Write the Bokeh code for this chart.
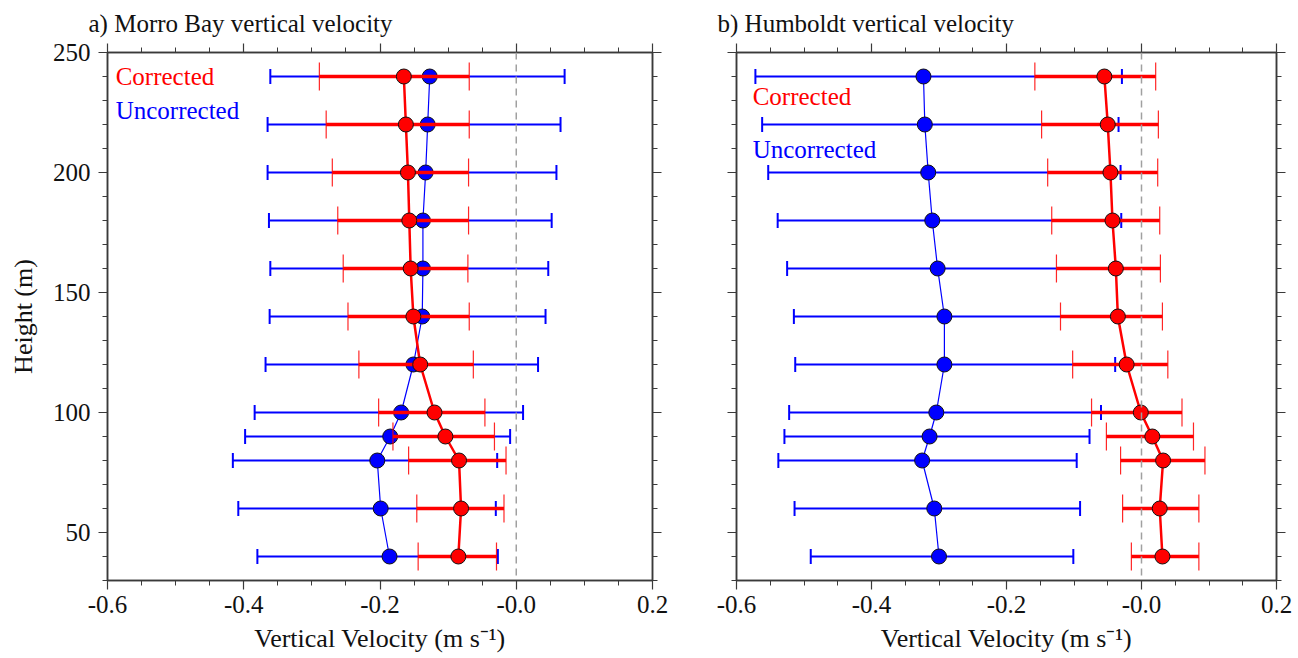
import math
from bokeh.plotting import figure
from bokeh.models import Span, Label, FixedTicker, LinearAxis, Range1d
from bokeh.layouts import row
from bokeh.embed import file_html
from bokeh.resources import INLINE

# ---------------- data ----------------
heights = [40, 60, 80, 90, 100, 120, 140, 160, 180, 200, 220, 240]

# a) Morro Bay
mb_corr = [-0.085, -0.081, -0.084, -0.104, -0.120, -0.141, -0.151, -0.155, -0.157, -0.159, -0.162, -0.165]
mb_corr_lo = [-0.144, -0.146, -0.158, -0.181, -0.202, -0.231, -0.247, -0.254, -0.262, -0.270, -0.279, -0.289]
mb_corr_hi = [-0.029, -0.018, -0.015, -0.032, -0.046, -0.063, -0.069, -0.071, -0.070, -0.070, -0.069, -0.069]
mb_unc = [-0.186, -0.199, -0.204, -0.185, -0.169, -0.151, -0.138, -0.137, -0.137, -0.133, -0.130, -0.127]
mb_unc_lo = [-0.380, -0.408, -0.416, -0.398, -0.384, -0.368, -0.362, -0.361, -0.363, -0.365, -0.365, -0.361]
mb_unc_hi = [-0.027, -0.030, -0.028, -0.009, 0.010, 0.032, 0.043, 0.047, 0.052, 0.059, 0.065, 0.071]

# b) Humboldt
hb_corr = [0.031, 0.027, 0.032, 0.016, -0.001, -0.022, -0.035, -0.038, -0.043, -0.046, -0.050, -0.055]
hb_corr_lo = [-0.015, -0.028, -0.031, -0.052, -0.074, -0.102, -0.120, -0.126, -0.133, -0.139, -0.148, -0.158]
hb_corr_hi = [0.085, 0.085, 0.094, 0.077, 0.060, 0.039, 0.031, 0.028, 0.027, 0.024, 0.025, 0.021]
hb_unc = [-0.300, -0.307, -0.325, -0.314, -0.304, -0.292, -0.292, -0.302, -0.310, -0.316, -0.321, -0.323]
hb_unc_lo = [-0.490, -0.514, -0.538, -0.529, -0.522, -0.513, -0.515, -0.525, -0.539, -0.553, -0.562, -0.572]
hb_unc_hi = [-0.101, -0.091, -0.096, -0.077, -0.060, -0.039, -0.035, -0.036, -0.030, -0.031, -0.034, -0.029]

x_ticks = [-0.6, -0.4, -0.2, 0.0, 0.2]
x_tick_labels = ["-0.6", "-0.4", "-0.2", "-0.0", "0.2"]
x_minor = [round(-0.6 + 0.05 * i, 2) for i in range(17)]
y_ticks = [50, 100, 150, 200, 250]
y_minor = list(range(30, 251, 10))

FONT = "Liberation Serif"
RED = "#ff0000"
BLUE = "#0000ff"
AX = "#3a3a3a"


def style_axis(ax, show_labels):
    ax.axis_line_color = AX
    ax.axis_line_width = 1.5
    ax.major_tick_line_color = AX
    ax.minor_tick_line_color = AX
    ax.major_tick_line_width = 1.2
    ax.minor_tick_line_width = 1.0
    ax.major_tick_in = 0
    ax.minor_tick_in = 0
    ax.major_tick_out = 9
    ax.minor_tick_out = 5
    ax.major_label_text_font = FONT
    ax.axis_label_text_font = FONT
    ax.axis_label_text_font_size = "26px"
    ax.axis_label_text_font_style = "normal"
    ax.axis_label_text_color = "#111111"
    if show_labels:
        ax.major_label_text_font_size = "25px"
        ax.major_label_text_color = "#111111"
    else:
        ax.major_label_text_font_size = "1px"
        ax.major_label_text_color = None
        ax.major_label_standoff = 0


def make_panel(title, c, c_lo, c_hi, u, u_lo, u_hi, width, bl, br, ylab, legend):
    p = figure(width=width, height=658, x_range=Range1d(-0.6, 0.2), y_range=Range1d(30, 250),
               output_backend="svg", toolbar_location=None,
               min_border_left=bl, min_border_right=br, min_border_top=52, min_border_bottom=78,
               background_fill_color="white", border_fill_color="white")
    p.xgrid.visible = False
    p.ygrid.visible = False
    p.outline_line_color = AX
    p.outline_line_width = 1.5

    top_axis = LinearAxis()
    right_axis = LinearAxis()
    p.add_layout(top_axis, "above")
    p.add_layout(right_axis, "right")
    bottom_axis = p.below[0]
    left_axis = p.left[0]

    xt = FixedTicker(ticks=x_ticks, minor_ticks=x_minor)
    yt = FixedTicker(ticks=y_ticks, minor_ticks=y_minor)
    for ax in (bottom_axis, top_axis):
        ax.ticker = xt
        ax.major_label_overrides = {t: s for t, s in zip(x_ticks, x_tick_labels)}
    for ax in (left_axis, right_axis):
        ax.ticker = yt
    style_axis(bottom_axis, True)
    style_axis(top_axis, False)
    style_axis(left_axis, ylab)
    style_axis(right_axis, False)

    bottom_axis.axis_label = "Vertical Velocity (m s\u207b\u00b9)"
    bottom_axis.major_label_standoff = 6
    bottom_axis.axis_label_standoff = 8
    if ylab:
        left_axis.axis_label = "Height (m)"
        left_axis.major_label_standoff = 8
        left_axis.axis_label_standoff = 12

    p.title.text = title
    p.title.align = "left"
    p.title.offset = -19
    p.title.text_font = FONT
    p.title.text_font_size = "25px"
    p.title.text_font_style = "normal"
    p.title.text_color = "#111111"
    p.title.standoff = 13

    p.add_layout(Span(location=0, dimension="height", line_color="#a0a0a0",
                      line_dash="7 5", line_width=1.5))

    # uncorrected (blue)
    p.segment(x0=u_lo, x1=u_hi, y0=heights, y1=heights, line_color=BLUE, line_width=2.2)
    p.scatter(x=u_lo + u_hi, y=heights + heights, marker="dash", angle=math.pi / 2, size=15,
              line_color=BLUE, line_width=2)
    p.line(x=u, y=heights, line_color=BLUE, line_width=1.2)
    p.scatter(x=u, y=heights, size=15, fill_color=BLUE, line_color="#111111", line_width=1)

    # corrected (red)
    p.segment(x0=c_lo, x1=c_hi, y0=heights, y1=heights, line_color=RED, line_width=3.5)
    p.scatter(x=c_lo + c_hi, y=heights + heights, marker="dash", angle=math.pi / 2, size=28,
              line_color=RED, line_width=1.2, line_alpha=0.85)
    p.line(x=c, y=heights, line_color=RED, line_width=2.5)
    p.scatter(x=c, y=heights, size=15, fill_color=RED, line_color="#111111", line_width=1)

    (lx, ly1, ly2) = legend
    p.add_layout(Label(x=lx, y=ly1, text="Corrected", text_color=RED, text_font=FONT,
                       text_font_size="25px", text_baseline="middle"))
    p.add_layout(Label(x=lx, y=ly2, text="Uncorrected", text_color=BLUE, text_font=FONT,
                       text_font_size="25px", text_baseline="middle"))
    return p


p1 = make_panel("a) Morro Bay vertical velocity", mb_corr, mb_corr_lo, mb_corr_hi,
                mb_unc, mb_unc_lo, mb_unc_hi, 690, 107, 38, True, (-0.588, 240, 226))
p2 = make_panel("b) Humboldt vertical velocity", hb_corr, hb_corr_lo, hb_corr_hi,
                hb_unc, hb_unc_lo, hb_unc_hi, 608, 46, 22, False, (-0.576, 231.5, 209.5))

layout = row(p1, p2)
open("out.html", "w").write(file_html(layout, INLINE))
